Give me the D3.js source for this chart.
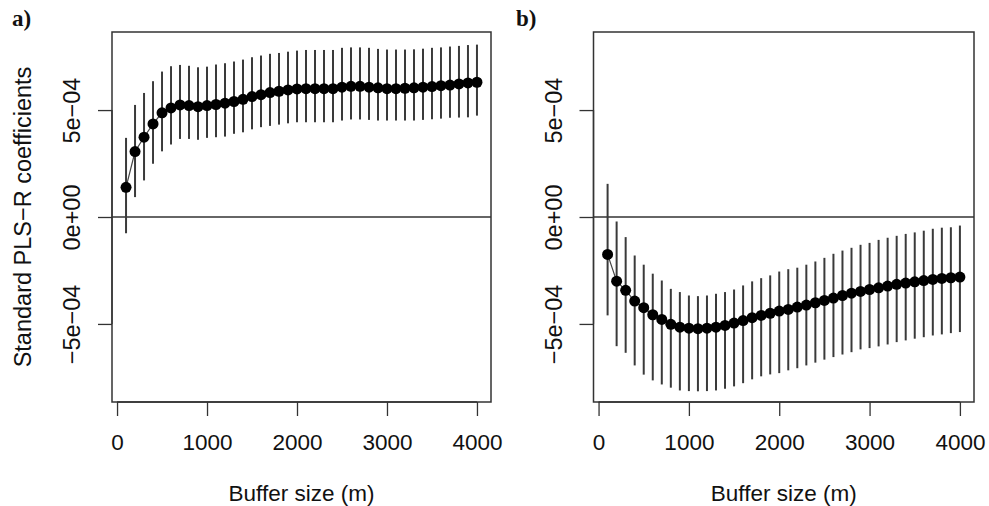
<!DOCTYPE html>
<html>
<head>
<meta charset="utf-8">
<script src="https://cdn.jsdelivr.net/npm/d3@7"></script>
<style>
  html, body { margin: 0; padding: 0; background: #fff; }
  svg { display: block; }
</style>
</head>
<body>
<svg id="chart" width="989" height="506"></svg>
<script>
// ---------------- DATA ----------------
const unit = 1e-4; // all coefficient values below are in units of 1e-4
const bufferSize = [100,200,300,400,500,600,700,800,900,1000,
  1100,1200,1300,1400,1500,1600,1700,1800,1900,2000,
  2100,2200,2300,2400,2500,2600,2700,2800,2900,3000,
  3100,3200,3300,3400,3500,3600,3700,3800,3900,4000];

// Panel a)
const coefA  = [1.39,3.06,3.73,4.35,4.87,5.10,5.24,5.21,5.16,5.21,
  5.26,5.32,5.40,5.50,5.63,5.72,5.82,5.88,5.94,5.99,
  6.00,6.00,6.00,6.00,6.07,6.11,6.11,6.07,6.04,6.00,
  6.00,6.02,6.04,6.07,6.10,6.14,6.17,6.22,6.27,6.30];
const upperA = [3.70,5.24,5.80,6.35,6.80,7.05,7.11,7.07,7.00,7.03,
  7.13,7.19,7.27,7.36,7.47,7.55,7.63,7.67,7.73,7.78,
  7.81,7.81,7.81,7.81,7.91,7.93,7.93,7.91,7.86,7.83,
  7.83,7.83,7.84,7.87,7.91,7.93,7.97,8.00,8.04,8.06];
const lowerA = [-0.76,0.93,1.71,2.49,3.07,3.39,3.65,3.65,3.61,3.70,
  3.73,3.76,3.89,3.96,4.10,4.20,4.26,4.32,4.38,4.43,
  4.43,4.43,4.43,4.43,4.51,4.56,4.56,4.54,4.51,4.51,
  4.51,4.51,4.51,4.54,4.57,4.60,4.64,4.65,4.66,4.74];

// Panel b)
const coefB  = [-1.75,-3.00,-3.43,-3.93,-4.24,-4.57,-4.79,-5.02,-5.15,-5.20,
  -5.22,-5.20,-5.15,-5.07,-4.96,-4.84,-4.71,-4.60,-4.50,-4.40,
  -4.32,-4.21,-4.12,-4.01,-3.90,-3.79,-3.67,-3.56,-3.48,-3.39,
  -3.31,-3.23,-3.15,-3.09,-3.03,-2.97,-2.92,-2.87,-2.84,-2.81];
const upperB = [1.55,-0.21,-0.94,-1.80,-2.23,-2.65,-2.97,-3.36,-3.51,-3.67,
  -3.70,-3.67,-3.59,-3.51,-3.39,-3.20,-3.01,-2.86,-2.73,-2.55,
  -2.44,-2.37,-2.23,-2.08,-1.91,-1.72,-1.57,-1.44,-1.30,-1.21,
  -1.07,-0.97,-0.88,-0.79,-0.72,-0.64,-0.55,-0.50,-0.48,-0.40];
const lowerB = [-4.60,-6.04,-6.35,-6.94,-7.37,-7.64,-7.83,-7.98,-8.11,-8.14,
  -8.15,-8.14,-8.11,-8.03,-7.92,-7.77,-7.59,-7.45,-7.36,-7.30,
  -7.17,-7.07,-6.94,-6.81,-6.67,-6.55,-6.43,-6.32,-6.19,-6.13,
  -6.05,-5.96,-5.85,-5.77,-5.69,-5.62,-5.54,-5.49,-5.43,-5.38];

const xTickValues = [0, 1000, 2000, 3000, 4000];
const yTickValues = [-5, 0, 5];
const yTickLabels = ["\u22125e\u221204", "0e+00", "5e\u221204"];
const panelLabels = ["a)", "b)"];
const xAxisTitle = "Buffer size (m)";
const yAxisTitle = "Standard PLS\u2212R coefficients";

// ---------------- LAYOUT ----------------
const svg = d3.select("#chart");
const plotTop = 32, plotBottom = 402;
const sans = "'Liberation Sans', Arial, sans-serif";
const serif = "'Liberation Serif', 'Times New Roman', serif";
const panels = [
  { left: 112,   right: 491, coef: coefA, lo: lowerA, hi: upperA, label: panelLabels[0], labelX: 12 },
  { left: 593.5, right: 974, coef: coefB, lo: lowerB, hi: upperB, label: panelLabels[1], labelX: 516 }
];

const y = d3.scaleLinear().domain([-8.65 * unit, 8.65 * unit]).range([plotBottom, plotTop]);
const ink = "#333";

panels.forEach((p, pi) => {
  const x = d3.scaleLinear().domain([-56, 4156]).range([p.left, p.right]);
  const g = svg.append("g");
  const data = bufferSize.map((b, i) => ({ b, c: p.coef[i] * unit, lo: p.lo[i] * unit, hi: p.hi[i] * unit }));

  // zero reference line
  g.append("line")
    .attr("x1", p.left).attr("x2", p.right)
    .attr("y1", y(0)).attr("y2", y(0))
    .attr("stroke", ink).attr("stroke-width", 1.3);

  // error bars
  g.selectAll("line.err").data(data).enter().append("line")
    .attr("class", "err")
    .attr("x1", d => x(d.b)).attr("x2", d => x(d.b))
    .attr("y1", d => y(d.lo)).attr("y2", d => y(d.hi))
    .attr("stroke", "#3a3a3a").attr("stroke-width", 2);

  // connecting line
  g.append("path").datum(data)
    .attr("fill", "none").attr("stroke", "#444").attr("stroke-width", 1.2)
    .attr("d", d3.line().x(d => x(d.b)).y(d => y(d.c)));

  // points
  g.selectAll("circle").data(data).enter().append("circle")
    .attr("cx", d => x(d.b)).attr("cy", d => y(d.c)).attr("r", 5.5)
    .attr("fill", "#000");

  // box
  g.append("rect")
    .attr("x", p.left).attr("y", plotTop)
    .attr("width", p.right - p.left).attr("height", plotBottom - plotTop)
    .attr("fill", "none").attr("stroke", ink).attr("stroke-width", 1.5);

  // x axis
  const xa = g.append("g").attr("transform", `translate(0,${plotBottom})`)
    .call(d3.axisBottom(x).tickValues(xTickValues).tickSize(14).tickSizeOuter(0).tickFormat(d3.format("d")));
  xa.select(".domain").remove();
  xa.append("line")
    .attr("x1", x(xTickValues[0])).attr("x2", x(xTickValues[xTickValues.length - 1]))
    .attr("y1", 0).attr("y2", 0).attr("stroke", ink).attr("stroke-width", 1.3);
  xa.selectAll(".tick line").attr("stroke", ink).attr("stroke-width", 1.3);
  xa.selectAll(".tick text")
    .attr("y", 47.5).attr("dy", 0)
    .style("font-size", "22.5px").style("font-family", sans)
    .attr("fill", "#111");

  // y axis
  const ya = g.append("g").attr("transform", `translate(${p.left},0)`)
    .call(d3.axisLeft(y).tickValues(yTickValues.map(v => v * unit)).tickSize(14).tickSizeOuter(0)
      .tickFormat((d, i) => yTickLabels[i]));
  ya.select(".domain").remove();
  ya.append("line")
    .attr("x1", 0).attr("x2", 0)
    .attr("y1", y(yTickValues[0] * unit)).attr("y2", y(yTickValues[yTickValues.length - 1] * unit))
    .attr("stroke", ink).attr("stroke-width", 1.3);
  ya.selectAll(".tick line").attr("stroke", ink).attr("stroke-width", 1.3);
  ya.selectAll(".tick text")
    .attr("x", null).attr("dy", null)
    .attr("text-anchor", "middle")
    .attr("transform", "translate(-32,0) rotate(-90)")
    .style("font-size", "23.5px").style("font-family", sans)
    .attr("fill", "#111");

  // x axis title
  g.append("text")
    .attr("x", (p.left + p.right) / 2).attr("y", 501)
    .attr("text-anchor", "middle")
    .style("font-size", "22.5px").style("font-family", sans)
    .attr("fill", "#111")
    .text(xAxisTitle);

  // panel label
  g.append("text")
    .attr("x", p.labelX).attr("y", 26)
    .style("font-family", serif)
    .style("font-weight", "bold").style("font-size", "23px")
    .attr("fill", "#111")
    .text(p.label);
});

// y axis title (left panel only)
svg.append("text")
  .attr("transform", `translate(31,${(plotTop + plotBottom) / 2}) rotate(-90)`)
  .attr("text-anchor", "middle")
  .style("font-size", "23.5px").style("font-family", sans)
  .attr("fill", "#111")
  .text(yAxisTitle);
</script>
</body>
</html>
